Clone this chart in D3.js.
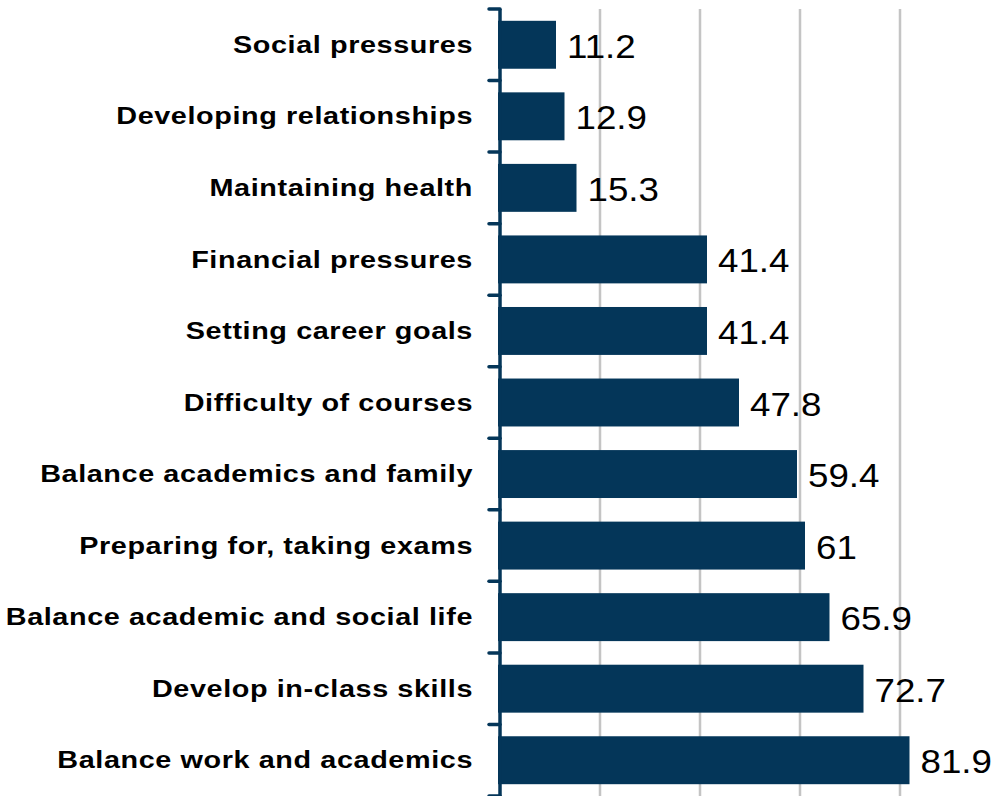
<!DOCTYPE html>
<html><head><meta charset="utf-8">
<script src="https://cdn.jsdelivr.net/npm/d3@7"></script>
<style>html,body{margin:0;padding:0;background:#fff;overflow:hidden}</style>
</head><body>
<svg id="chart" width="999" height="796"></svg>
<script>
const categories = ["Social pressures","Developing relationships","Maintaining health","Financial pressures","Setting career goals","Difficulty of courses","Balance academics and family","Preparing for, taking exams","Balance academic and social life","Develop in-class skills","Balance work and academics"];
const values = [11.2,12.9,15.3,41.4,41.4,47.8,59.4,61,65.9,72.7,81.9];
const valueLabels = ["11.2","12.9","15.3","41.4","41.4","47.8","59.4","61","65.9","72.7","81.9"];
const gridTicks = [20,40,60,80];

const data = categories.map((c,i)=>({c, v:values[i], t:valueLabels[i]}));
const svg = d3.select("#chart");
const x = d3.scaleLinear().domain([0,100]).range([500,1000]);
const y = d3.scaleBand().domain(categories).range([9,796]).paddingInner(0.33).paddingOuter(0.165);
const navy = "#043659";

// gridlines
svg.append("g").selectAll("line").data(gridTicks).join("line")
  .attr("x1",d=>x(d)).attr("x2",d=>x(d)).attr("y1",9).attr("y2",796)
  .attr("stroke","#c4c4c4").attr("stroke-width",2.5);

// bars
svg.append("g").selectAll("rect").data(data).join("rect")
  .attr("x",x(0)-2).attr("y",d=>y(d.c)).attr("width",d=>x(d.v)-x(0)+2).attr("height",y.bandwidth())
  .attr("fill",navy);

// axis line and ticks (between categories)
const step = y.step();
const tickYs = categories.map((c,i)=>y(c)-y.paddingInner()*step/2);
const axis = svg.append("g");
axis.append("line").attr("x1",x(0)).attr("x2",x(0)).attr("y1",tickYs[0]).attr("y2",800)
  .attr("stroke",navy).attr("stroke-width",3.5);
axis.selectAll("line.tick").data(tickYs.concat([tickYs[tickYs.length-1]+step])).join("line").attr("class","tick")
  .attr("x1",x(0)-11).attr("x2",x(0)).attr("y1",d=>d).attr("y2",d=>d)
  .attr("stroke",navy).attr("stroke-width",3.5).attr("stroke-linecap","round");

// category labels
svg.append("g").selectAll("text").data(data).join("text")
  .attr("transform",d=>`translate(473,${y(d.c)+y.bandwidth()/2}) scale(1.2,1)`)
  .attr("text-anchor","end").attr("dominant-baseline","central")
  .attr("font-family","'Liberation Sans', Arial, sans-serif").attr("font-weight","bold")
  .attr("font-size",24).attr("letter-spacing",0.5)
  .attr("fill","#000").text(d=>d.c);

// value labels
svg.append("g").selectAll("text").data(data).join("text")
  .attr("transform",d=>`translate(${x(d.v)+11},${y(d.c)+y.bandwidth()/2+1}) scale(1.08,1)`)
  .attr("dominant-baseline","central")
  .attr("font-family","'Liberation Sans', Arial, sans-serif")
  .attr("font-size",34).attr("fill","#000").text(d=>d.t);
</script>
</body></html>
